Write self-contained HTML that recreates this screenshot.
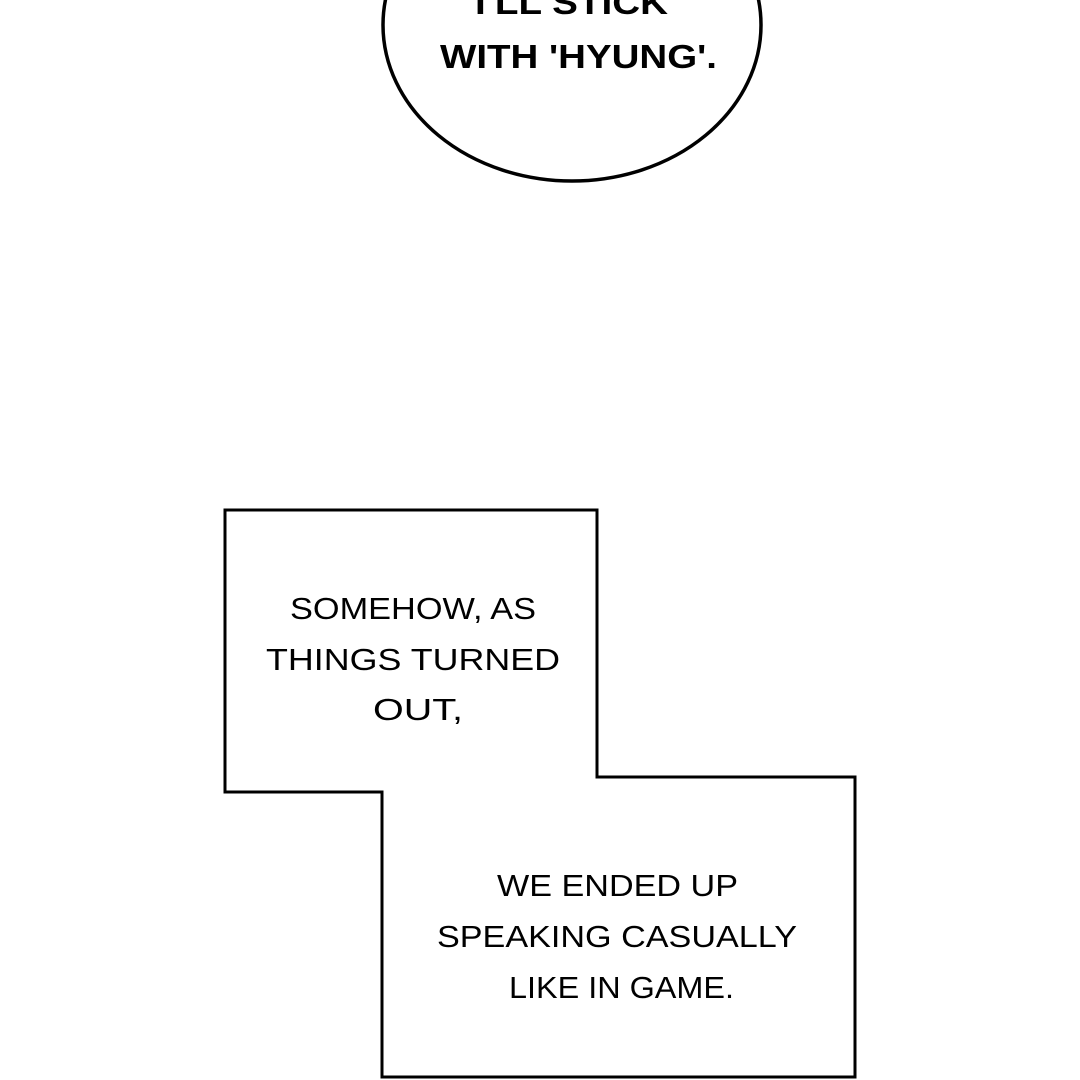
<!DOCTYPE html>
<html><head><style>html,body{margin:0;padding:0;background:#fff;}svg{display:block}</style></head>
<body>
<svg width="1080" height="1080" viewBox="0 0 1080 1080" xmlns="http://www.w3.org/2000/svg">
<rect width="1080" height="1080" fill="#fff"/>
<ellipse cx="572" cy="25" rx="189" ry="156" fill="#fff" stroke="#000" stroke-width="3.5"/>
<g font-family="Liberation Sans, sans-serif" font-weight="bold" font-size="33" fill="#000">
<text x="475" y="14" textLength="193" lengthAdjust="spacingAndGlyphs">I'LL STICK</text>
<text x="440" y="68" textLength="277" lengthAdjust="spacingAndGlyphs">WITH 'HYUNG'.</text>
</g>
<polygon points="225,510 597,510 597,777 855,777 855,1077 382,1077 382,792 225,792" fill="#fff" stroke="#000" stroke-width="3"/>
<g font-family="Liberation Sans, sans-serif" font-size="31" fill="#000">
<text x="290" y="619" textLength="246" lengthAdjust="spacingAndGlyphs">SOMEHOW, AS</text>
<text x="266" y="670" textLength="294" lengthAdjust="spacingAndGlyphs">THINGS TURNED</text>
<text x="373" y="720" textLength="90" lengthAdjust="spacingAndGlyphs">OUT,</text>
<text x="497" y="896" textLength="241" lengthAdjust="spacingAndGlyphs">WE ENDED UP</text>
<text x="437" y="947" textLength="360" lengthAdjust="spacingAndGlyphs">SPEAKING CASUALLY</text>
<text x="509" y="998" textLength="225" lengthAdjust="spacingAndGlyphs">LIKE IN GAME.</text>
</g>
</svg>
</body></html>
